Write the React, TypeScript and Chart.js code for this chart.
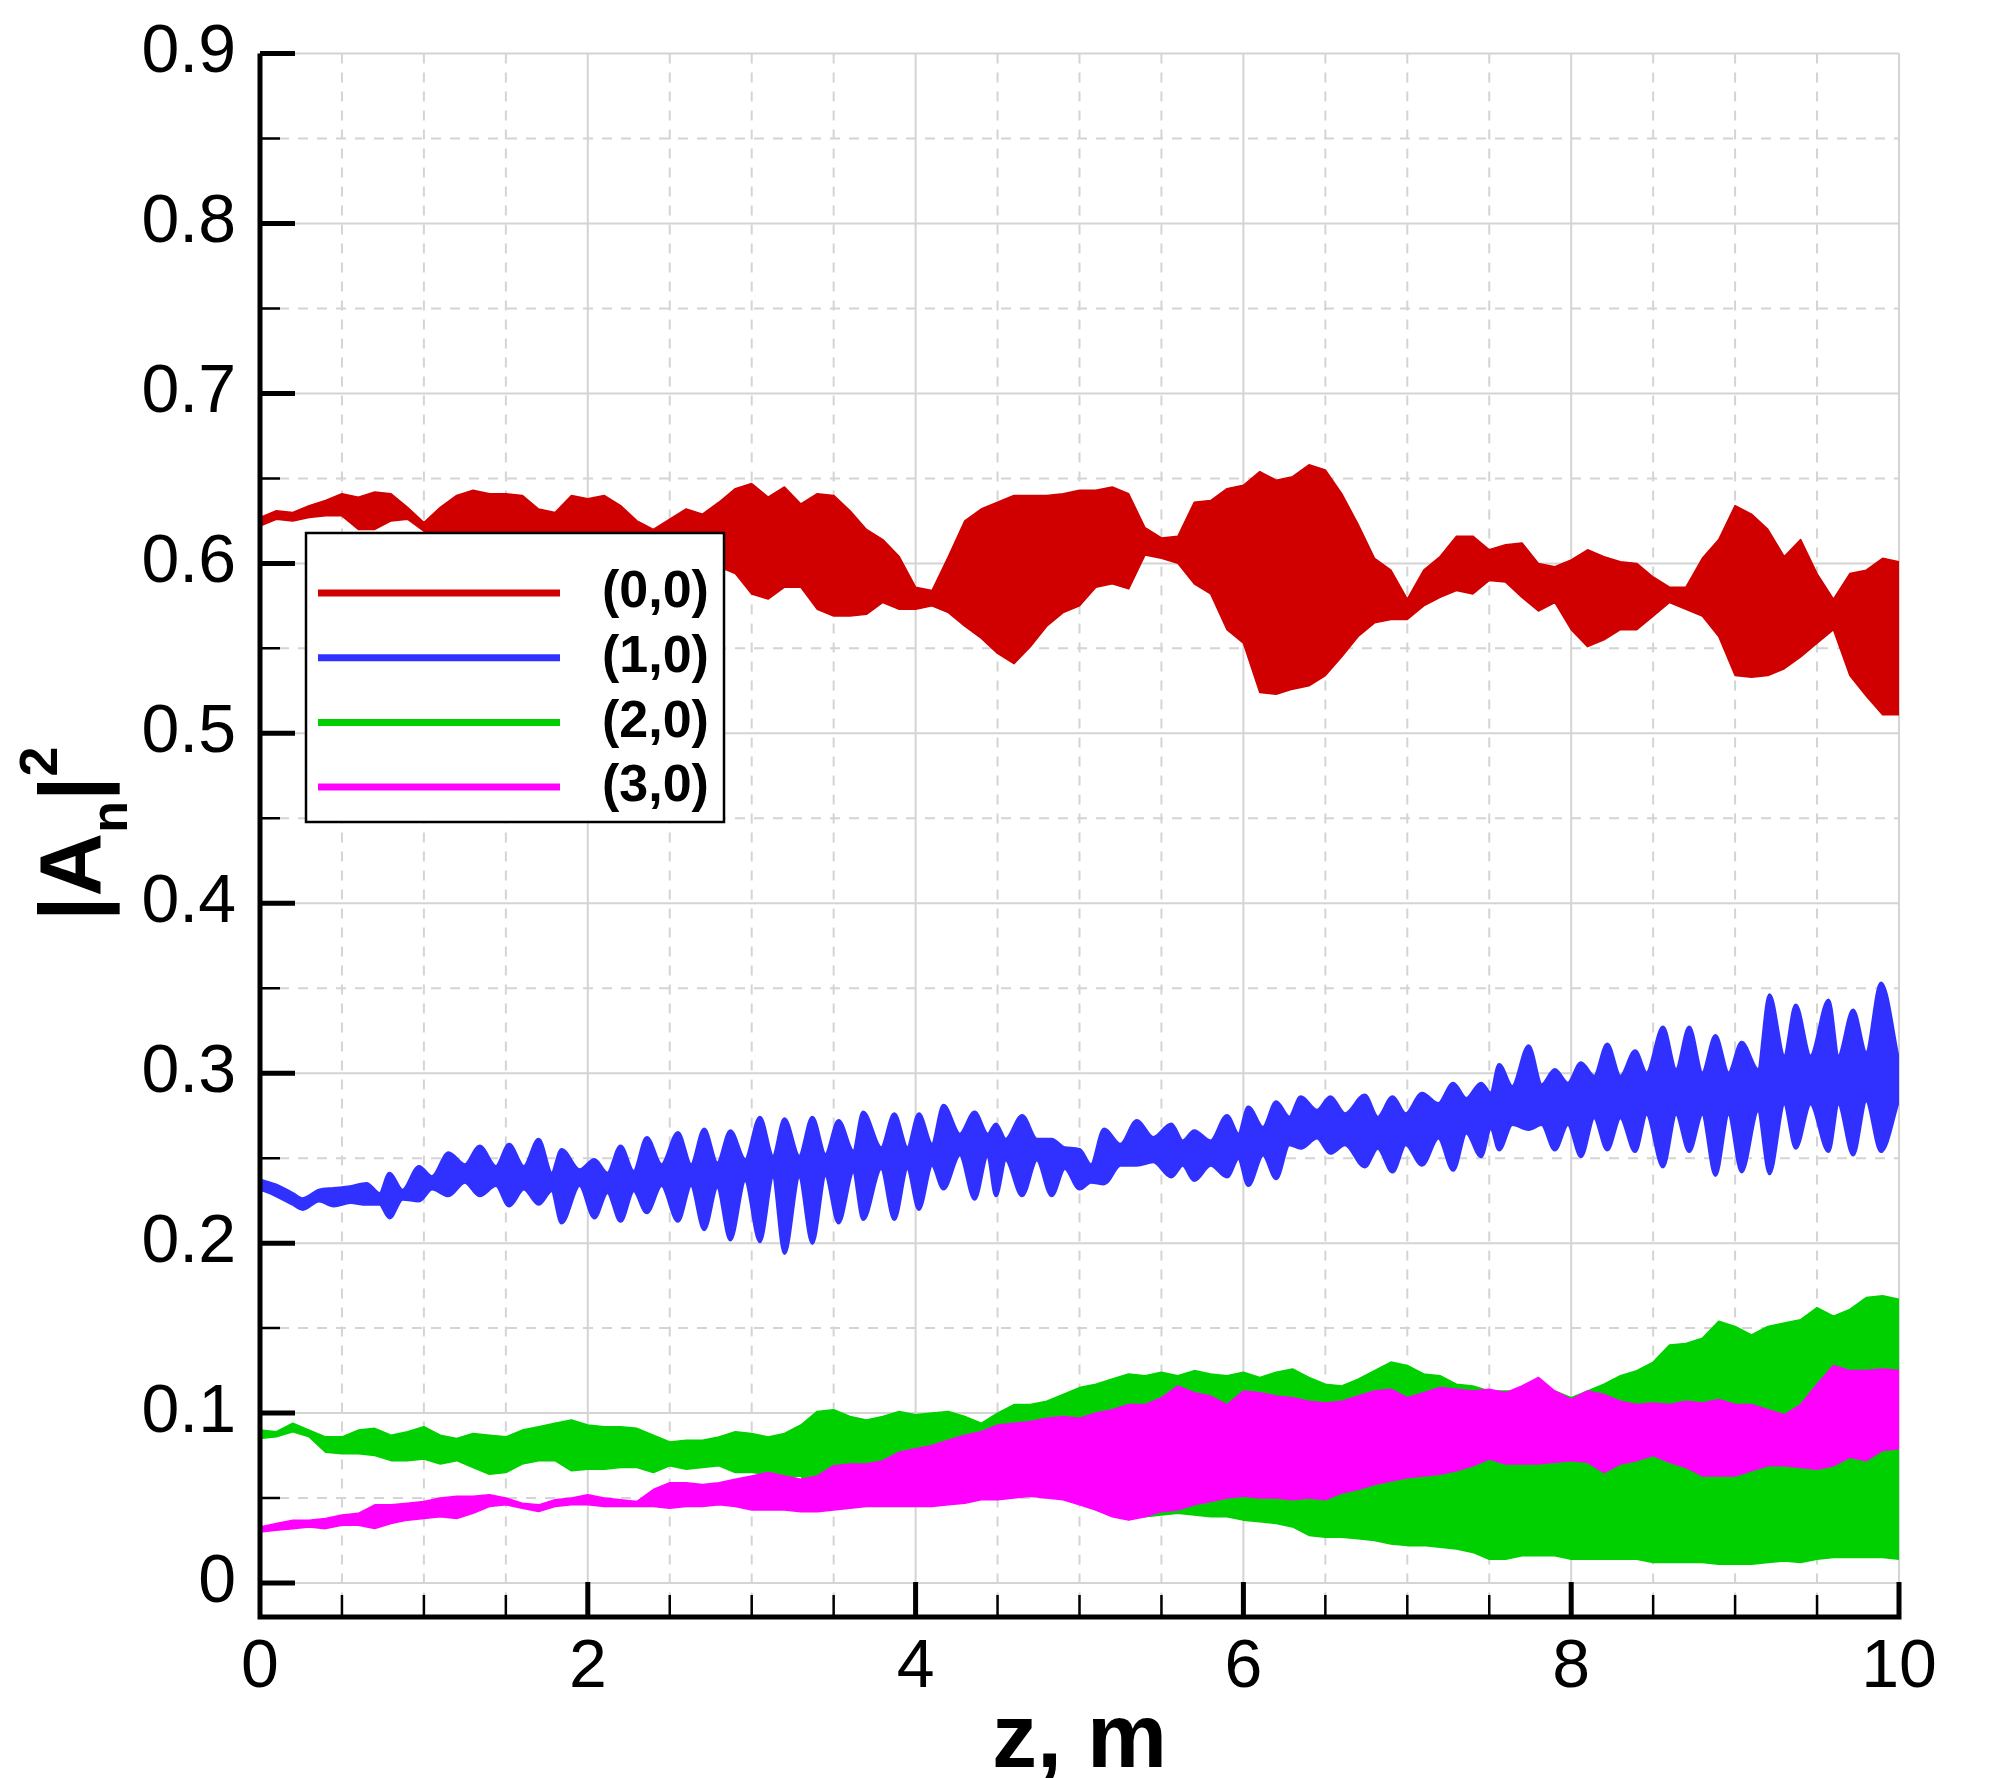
import { useRef, useEffect } from "react"
import { Chart, type ChartConfiguration, type Plugin, registerables } from "chart.js"

Chart.register(...registerables)

const FONT = "'Liberation Sans', Arial, sans-serif"
const GRID_COLOR = "#d4d4d4"

// axis ticks
const X_TICKS = [0, 2, 4, 6, 8, 10]
const X_MINOR = [0.5, 1, 1.5, 2.5, 3, 3.5, 4.5, 5, 5.5, 6.5, 7, 7.5, 8.5, 9, 9.5]
const Y_TICKS = [0, 0.1, 0.2, 0.3, 0.4, 0.5, 0.6, 0.7, 0.8, 0.9]
const Y_MINOR = [0.05, 0.15, 0.25, 0.35, 0.45, 0.55, 0.65, 0.75, 0.85]

const SERIES_LABELS = ["(0,0)", "(1,0)", "(2,0)", "(3,0)"]
const SERIES_COLORS = ["#d00000", "#3030ff", "#00d000", "#ff00ff"]

// sample positions (m) for the red, green and magenta envelopes
const Z = Array.from({ length: 101 }, (_, i) => i / 10)

// (0,0): upper / lower envelope of the oscillation band
const RED_TOP = [
  0.627, 0.631, 0.630, 0.634, 0.637, 0.641, 0.639, 0.642, 0.641, 0.633,
  0.624, 0.633, 0.640, 0.643, 0.641, 0.641, 0.640, 0.632, 0.630, 0.640,
  0.638, 0.640, 0.634, 0.625, 0.620, 0.626, 0.632, 0.629, 0.636, 0.644,
  0.647, 0.639, 0.645, 0.635, 0.641, 0.640, 0.631, 0.620, 0.614, 0.604,
  0.586, 0.584, 0.604, 0.625, 0.632, 0.636, 0.640, 0.640, 0.640, 0.641,
  0.643, 0.643, 0.645, 0.641, 0.621, 0.615, 0.616, 0.636, 0.637, 0.644,
  0.646, 0.654, 0.649, 0.651, 0.658, 0.655, 0.641, 0.623, 0.603, 0.596,
  0.579, 0.596, 0.604, 0.616, 0.616, 0.608, 0.611, 0.612, 0.600, 0.598,
  0.602, 0.608, 0.604, 0.601, 0.600, 0.592, 0.586, 0.586, 0.603, 0.614,
  0.634, 0.629, 0.620, 0.604, 0.614, 0.594, 0.579, 0.594, 0.596, 0.603,
  0.601,
]
const RED_BOT = [
  0.622, 0.626, 0.625, 0.627, 0.628, 0.628, 0.620, 0.620, 0.625, 0.626,
  0.619, 0.614, 0.612, 0.612, 0.612, 0.612, 0.612, 0.612, 0.612, 0.612,
  0.612, 0.612, 0.610, 0.607, 0.605, 0.605, 0.605, 0.603, 0.598, 0.594,
  0.582, 0.579, 0.586, 0.586, 0.573, 0.569, 0.569, 0.570, 0.577, 0.573,
  0.573, 0.575, 0.571, 0.563, 0.556, 0.547, 0.541, 0.551, 0.563, 0.571,
  0.575, 0.586, 0.588, 0.585, 0.605, 0.603, 0.600, 0.588, 0.582, 0.561,
  0.553, 0.524, 0.523, 0.526, 0.528, 0.534, 0.545, 0.557, 0.565, 0.567,
  0.567, 0.575, 0.580, 0.584, 0.582, 0.590, 0.589, 0.580, 0.572, 0.577,
  0.561, 0.551, 0.555, 0.561, 0.561, 0.569, 0.577, 0.573, 0.569, 0.557,
  0.534, 0.533, 0.534, 0.538, 0.545, 0.553, 0.561, 0.534, 0.522, 0.511,
  0.511,
]

// (1,0): lobes, read at each lobe crest and node
const BLUE_Z = [
  0.0, 0.1, 0.2, 0.26, 0.36, 0.45, 0.55, 0.65, 0.73, 0.79, 0.87, 0.97,
  1.05, 1.15, 1.25, 1.34, 1.44, 1.52, 1.61, 1.7, 1.78, 1.84, 1.95,
  2.04, 2.12, 2.2, 2.28, 2.36, 2.45, 2.55, 2.63, 2.71, 2.79, 2.87, 2.96,
  3.05, 3.13, 3.2, 3.29, 3.37, 3.45, 3.53, 3.62, 3.68, 3.79, 3.87, 3.95,
  4.02, 4.1, 4.17, 4.27, 4.36, 4.44, 4.49, 4.55, 4.65, 4.74, 4.83, 4.91,
  5.0, 5.07, 5.15, 5.25, 5.35, 5.45, 5.56, 5.63, 5.7, 5.8, 5.9, 5.97,
  6.03, 6.12, 6.2, 6.28, 6.35, 6.45, 6.53, 6.62, 6.74, 6.82, 6.91, 6.99,
  7.09, 7.19, 7.28, 7.36, 7.45, 7.51, 7.56, 7.64, 7.74, 7.82, 7.9, 7.98,
  8.06, 8.14, 8.22, 8.3, 8.39, 8.46, 8.56, 8.64, 8.72, 8.8, 8.88, 8.96,
  9.04, 9.14, 9.21, 9.3, 9.37, 9.46, 9.57, 9.63, 9.72, 9.8, 9.89, 10.0,
]
const BLUE_TOP = [
  0.237, 0.234, 0.229, 0.226, 0.231, 0.232, 0.233, 0.235, 0.229, 0.241, 0.231, 0.245,
  0.239, 0.253, 0.246, 0.257, 0.245, 0.258, 0.245, 0.261, 0.241, 0.255, 0.243,
  0.249, 0.241, 0.257, 0.242, 0.262, 0.246, 0.265, 0.246, 0.267, 0.247, 0.266, 0.249,
  0.274, 0.251, 0.273, 0.251, 0.274, 0.252, 0.272, 0.254, 0.277, 0.256, 0.276, 0.256,
  0.276, 0.258, 0.281, 0.264, 0.277, 0.264, 0.270, 0.261, 0.275, 0.261, 0.261, 0.256,
  0.255, 0.246, 0.267, 0.258, 0.272, 0.262, 0.270, 0.260, 0.266, 0.260, 0.275, 0.264,
  0.280, 0.268, 0.283, 0.274, 0.286, 0.278, 0.286, 0.276, 0.287, 0.274, 0.286, 0.276,
  0.288, 0.282, 0.294, 0.285, 0.294, 0.288, 0.305, 0.292, 0.316, 0.293, 0.302, 0.294,
  0.306, 0.298, 0.317, 0.298, 0.313, 0.300, 0.327, 0.302, 0.327, 0.300, 0.322, 0.300,
  0.318, 0.302, 0.346, 0.310, 0.340, 0.310, 0.343, 0.310, 0.337, 0.312, 0.353, 0.306,
]
const BLUE_BOT = [
  0.232, 0.228, 0.223, 0.220, 0.225, 0.222, 0.224, 0.223, 0.223, 0.215, 0.226, 0.225,
  0.232, 0.228, 0.236, 0.228, 0.234, 0.222, 0.232, 0.223, 0.231, 0.212, 0.234,
  0.215, 0.230, 0.213, 0.231, 0.218, 0.234, 0.213, 0.234, 0.208, 0.233, 0.202, 0.237,
  0.201, 0.239, 0.194, 0.239, 0.200, 0.240, 0.212, 0.242, 0.214, 0.244, 0.214, 0.244,
  0.220, 0.246, 0.232, 0.252, 0.226, 0.252, 0.228, 0.249, 0.228, 0.249, 0.228, 0.244,
  0.232, 0.236, 0.235, 0.246, 0.246, 0.248, 0.239, 0.246, 0.237, 0.246, 0.239, 0.250,
  0.234, 0.252, 0.238, 0.258, 0.256, 0.262, 0.253, 0.258, 0.245, 0.256, 0.242, 0.258,
  0.246, 0.262, 0.243, 0.265, 0.251, 0.268, 0.255, 0.270, 0.267, 0.270, 0.255, 0.270,
  0.251, 0.274, 0.255, 0.274, 0.254, 0.276, 0.245, 0.276, 0.254, 0.276, 0.240, 0.276,
  0.242, 0.278, 0.241, 0.282, 0.256, 0.282, 0.254, 0.282, 0.252, 0.284, 0.254, 0.285,
]

// (2,0)
const GREEN_TOP = [
  0.090, 0.089, 0.094, 0.090, 0.086, 0.086, 0.090, 0.091, 0.087, 0.089,
  0.092, 0.087, 0.085, 0.088, 0.087, 0.086, 0.090, 0.092, 0.094, 0.096,
  0.093, 0.092, 0.092, 0.091, 0.087, 0.083, 0.084, 0.084, 0.086, 0.089,
  0.088, 0.086, 0.088, 0.093, 0.101, 0.102, 0.098, 0.096, 0.098, 0.101,
  0.099, 0.100, 0.101, 0.098, 0.094, 0.100, 0.105, 0.105, 0.107, 0.111,
  0.115, 0.117, 0.120, 0.123, 0.122, 0.124, 0.122, 0.125, 0.123, 0.122,
  0.124, 0.121, 0.124, 0.126, 0.121, 0.117, 0.116, 0.120, 0.125, 0.130,
  0.128, 0.123, 0.122, 0.117, 0.116, 0.113, 0.113, 0.113, 0.115, 0.113,
  0.109, 0.113, 0.117, 0.122, 0.125, 0.130, 0.140, 0.141, 0.144, 0.154,
  0.151, 0.146, 0.151, 0.153, 0.155, 0.162, 0.157, 0.161, 0.168, 0.169,
  0.167,
]
const GREEN_BOT = [
  0.085, 0.086, 0.089, 0.086, 0.077, 0.076, 0.076, 0.075, 0.072, 0.072,
  0.073, 0.070, 0.072, 0.068, 0.064, 0.065, 0.070, 0.072, 0.072, 0.066,
  0.067, 0.067, 0.068, 0.068, 0.065, 0.069, 0.067, 0.068, 0.069, 0.065,
  0.065, 0.064, 0.062, 0.063, 0.046, 0.047, 0.048, 0.049, 0.049, 0.049,
  0.049, 0.049, 0.050, 0.051, 0.053, 0.053, 0.054, 0.055, 0.054, 0.053,
  0.050, 0.043, 0.040, 0.038, 0.039, 0.040, 0.041, 0.040, 0.039, 0.039,
  0.037, 0.036, 0.035, 0.033, 0.028, 0.027, 0.027, 0.026, 0.025, 0.023,
  0.022, 0.022, 0.021, 0.020, 0.018, 0.014, 0.014, 0.016, 0.016, 0.016,
  0.014, 0.014, 0.014, 0.014, 0.014, 0.012, 0.012, 0.012, 0.012, 0.011,
  0.011, 0.011, 0.012, 0.013, 0.012, 0.014, 0.015, 0.015, 0.015, 0.015,
  0.014,
]

// (3,0)
const MAGENTA_TOP = [
  0.033, 0.035, 0.037, 0.037, 0.038, 0.040, 0.041, 0.046, 0.046, 0.047,
  0.048, 0.050, 0.051, 0.051, 0.052, 0.050, 0.047, 0.046, 0.049, 0.050,
  0.052, 0.050, 0.049, 0.048, 0.055, 0.059, 0.059, 0.058, 0.059, 0.061,
  0.063, 0.065, 0.063, 0.061, 0.063, 0.069, 0.070, 0.070, 0.072, 0.077,
  0.079, 0.081, 0.084, 0.087, 0.089, 0.093, 0.094, 0.095, 0.097, 0.098,
  0.097, 0.100, 0.102, 0.105, 0.105, 0.109, 0.116, 0.112, 0.110, 0.105,
  0.113, 0.112, 0.110, 0.109, 0.107, 0.106, 0.107, 0.110, 0.113, 0.114,
  0.109, 0.112, 0.115, 0.114, 0.113, 0.114, 0.112, 0.116, 0.121, 0.113,
  0.108, 0.113, 0.111, 0.107, 0.105, 0.106, 0.105, 0.107, 0.106, 0.108,
  0.105, 0.105, 0.102, 0.099, 0.105, 0.117, 0.128, 0.125, 0.125, 0.126,
  0.125,
]
const MAGENTA_BOT = [
  0.030, 0.031, 0.032, 0.033, 0.032, 0.034, 0.034, 0.032, 0.035, 0.037,
  0.038, 0.039, 0.038, 0.041, 0.045, 0.046, 0.044, 0.042, 0.045, 0.046,
  0.046, 0.045, 0.045, 0.045, 0.045, 0.044, 0.045, 0.045, 0.046, 0.045,
  0.043, 0.043, 0.043, 0.042, 0.042, 0.043, 0.044, 0.045, 0.045, 0.045,
  0.045, 0.045, 0.046, 0.047, 0.049, 0.049, 0.050, 0.051, 0.050, 0.049,
  0.046, 0.043, 0.039, 0.037, 0.039, 0.042, 0.043, 0.046, 0.048, 0.050,
  0.051, 0.050, 0.050, 0.049, 0.050, 0.049, 0.053, 0.055, 0.058, 0.060,
  0.062, 0.063, 0.064, 0.066, 0.069, 0.073, 0.070, 0.070, 0.070, 0.071,
  0.072, 0.071, 0.065, 0.070, 0.072, 0.075, 0.071, 0.068, 0.063, 0.063,
  0.063, 0.066, 0.069, 0.069, 0.068, 0.067, 0.069, 0.074, 0.072, 0.078,
  0.079,
]

const pts = (xs: number[], ys: number[]) => xs.map((x, i) => ({ x, y: ys[i] }))

function band(color: string, xs: number[], top: number[], bot: number[], order: number, smooth = false) {
  const common = {
    borderColor: color,
    backgroundColor: color,
    borderWidth: smooth ? 3.5 : 1.5,
    borderJoinStyle: "round" as const,
    pointRadius: 0,
    order,
    cubicInterpolationMode: smooth ? ("monotone" as const) : ("default" as const),
    tension: 0,
  }
  return [
    { ...common, data: pts(xs, top), fill: false },
    { ...common, data: pts(xs, bot), fill: "-1" },
  ]
}

const frame: Plugin<"line"> = {
  id: "frame",
  beforeDatasetsDraw(chart) {
    const { ctx, chartArea: a } = chart
    const xs = chart.scales.x
    const ys = chart.scales.y
    ctx.save()
    ctx.strokeStyle = GRID_COLOR
    ctx.lineWidth = 2
    ctx.setLineDash([10, 9])
    ctx.beginPath()
    for (const v of Y_MINOR) {
      const py = ys.getPixelForValue(v)
      ctx.moveTo(a.left, py)
      ctx.lineTo(a.right, py)
    }
    for (const v of X_MINOR) {
      const px = xs.getPixelForValue(v)
      ctx.moveTo(px, a.top)
      ctx.lineTo(px, a.bottom)
    }
    ctx.stroke()
    ctx.setLineDash([])
    ctx.beginPath()
    for (const v of Y_TICKS) {
      const py = ys.getPixelForValue(v)
      ctx.moveTo(a.left, py)
      ctx.lineTo(a.right, py)
    }
    for (const v of X_TICKS) {
      const px = xs.getPixelForValue(v)
      ctx.moveTo(px, a.top)
      ctx.lineTo(px, a.bottom)
    }
    ctx.stroke()
    ctx.restore()
  },
  afterDatasetsDraw(chart) {
    const { ctx, chartArea: a } = chart
    const xs = chart.scales.x
    const ys = chart.scales.y
    ctx.save()
    ctx.strokeStyle = "#000"
    // axis lines
    ctx.lineWidth = 5
    ctx.beginPath()
    ctx.moveTo(a.left, a.top)
    ctx.lineTo(a.left, a.bottom + 2.5)
    ctx.moveTo(a.left - 2.5, a.bottom)
    ctx.lineTo(a.right + 2.5, a.bottom)
    // major ticks, pointing inwards
    for (const v of Y_TICKS) {
      const py = ys.getPixelForValue(v)
      ctx.moveTo(a.left, py)
      ctx.lineTo(a.left + 35, py)
    }
    for (const v of X_TICKS) {
      const px = xs.getPixelForValue(v)
      ctx.moveTo(px, a.bottom)
      ctx.lineTo(px, a.bottom - 35)
    }
    ctx.stroke()
    ctx.lineWidth = 2.5
    ctx.beginPath()
    for (const v of Y_MINOR) {
      const py = ys.getPixelForValue(v)
      ctx.moveTo(a.left, py)
      ctx.lineTo(a.left + 20, py)
    }
    for (const v of X_MINOR) {
      const px = xs.getPixelForValue(v)
      ctx.moveTo(px, a.bottom)
      ctx.lineTo(px, a.bottom - 22)
    }
    ctx.stroke()
    ctx.restore()
  },
  afterDraw(chart) {
    const { ctx, chartArea: a } = chart
    ctx.save()

    // legend box
    const lx = 306
    const ly = 533
    ctx.fillStyle = "#fff"
    ctx.fillRect(lx, ly, 418, 289)
    ctx.strokeStyle = "#000"
    ctx.lineWidth = 2.5
    ctx.strokeRect(lx, ly, 418, 289)
    ctx.font = `bold 52px ${FONT}`
    ctx.textBaseline = "middle"
    ctx.textAlign = "left"
    SERIES_LABELS.forEach((label, i) => {
      const ry = ly + 60 + i * 64.7
      ctx.strokeStyle = SERIES_COLORS[i]
      ctx.lineWidth = 7
      ctx.beginPath()
      ctx.moveTo(lx + 12, ry)
      ctx.lineTo(lx + 254, ry)
      ctx.stroke()
      ctx.fillStyle = "#000"
      ctx.fillText(label, lx + 296, ry)
    })

    // x title
    ctx.fillStyle = "#000"
    ctx.textAlign = "center"
    ctx.textBaseline = "alphabetic"
    ctx.font = `bold 90px ${FONT}`
    ctx.fillText("z, m", (a.left + a.right) / 2, 1767)

    // y title |A_n|^2, rotated
    ctx.translate(100, 921)
    ctx.rotate(-Math.PI / 2)
    ctx.textAlign = "left"
    let cx = 0
    const put = (t: string, size: number, dy: number) => {
      ctx.font = `bold ${size}px ${FONT}`
      ctx.fillText(t, cx, dy)
      cx += ctx.measureText(t).width
    }
    put("|A", 88, 0)
    put("n", 52, 27)
    put("|", 88, 0)
    put("2", 54, -43)
    ctx.restore()
  },
}

export default function App() {
  const canvasRef = useRef<HTMLCanvasElement>(null)
  const chartRef = useRef<Chart<"line"> | null>(null)

  useEffect(() => {
    if (!canvasRef.current) return
    if (chartRef.current) chartRef.current.destroy()

    const config: ChartConfiguration<"line"> = {
      type: "line",
      data: {
        datasets: [
          ...band(SERIES_COLORS[0], Z, RED_TOP, RED_BOT, 4),
          ...band(SERIES_COLORS[1], BLUE_Z, BLUE_TOP, BLUE_BOT, 3, true),
          ...band(SERIES_COLORS[2], Z, GREEN_TOP, GREEN_BOT, 2),
          ...band(SERIES_COLORS[3], Z, MAGENTA_TOP, MAGENTA_BOT, 1),
        ] as any,
      },
      options: {
        responsive: false,
        animation: false,
        devicePixelRatio: 1,
        layout: { padding: { left: 0, top: 50, right: 101, bottom: 0 } },
        plugins: {
          legend: { display: false },
          tooltip: { enabled: false },
        },
        scales: {
          x: {
            type: "linear",
            min: 0,
            max: 10,
            grid: { display: false, drawTicks: false },
            border: { display: false },
            afterBuildTicks: (axis) => {
              axis.ticks = X_TICKS.map((value) => ({ value }))
            },
            afterFit: (axis) => {
              axis.height = 161
            },
            ticks: {
              autoSkip: false,
              maxRotation: 0,
              padding: 10,
              color: "#000",
              font: { family: FONT, size: 68 },
              callback: (v) => String(v),
            },
          },
          y: {
            type: "linear",
            min: -0.02,
            max: 0.9,
            grid: { display: false, drawTicks: false },
            border: { display: false },
            afterBuildTicks: (axis) => {
              axis.ticks = Y_TICKS.map((value) => ({ value }))
            },
            afterFit: (axis) => {
              axis.width = 260
            },
            ticks: {
              autoSkip: false,
              padding: 24,
              color: "#000",
              font: { family: FONT, size: 68, lineHeight: 0.87 },
              callback: (v) => String(Math.round(Number(v) * 10) / 10),
            },
          },
        },
      },
      plugins: [frame],
    }

    chartRef.current = new Chart(canvasRef.current, config)

    return () => {
      if (chartRef.current) {
        chartRef.current.destroy()
        chartRef.current = null
      }
    }
  }, [])

  return (
    <div style={{ position: "absolute", left: 0, top: 0, width: 2000, height: 1778, background: "#fff" }}>
      <canvas ref={canvasRef} width={2000} height={1778} />
    </div>
  )
}
